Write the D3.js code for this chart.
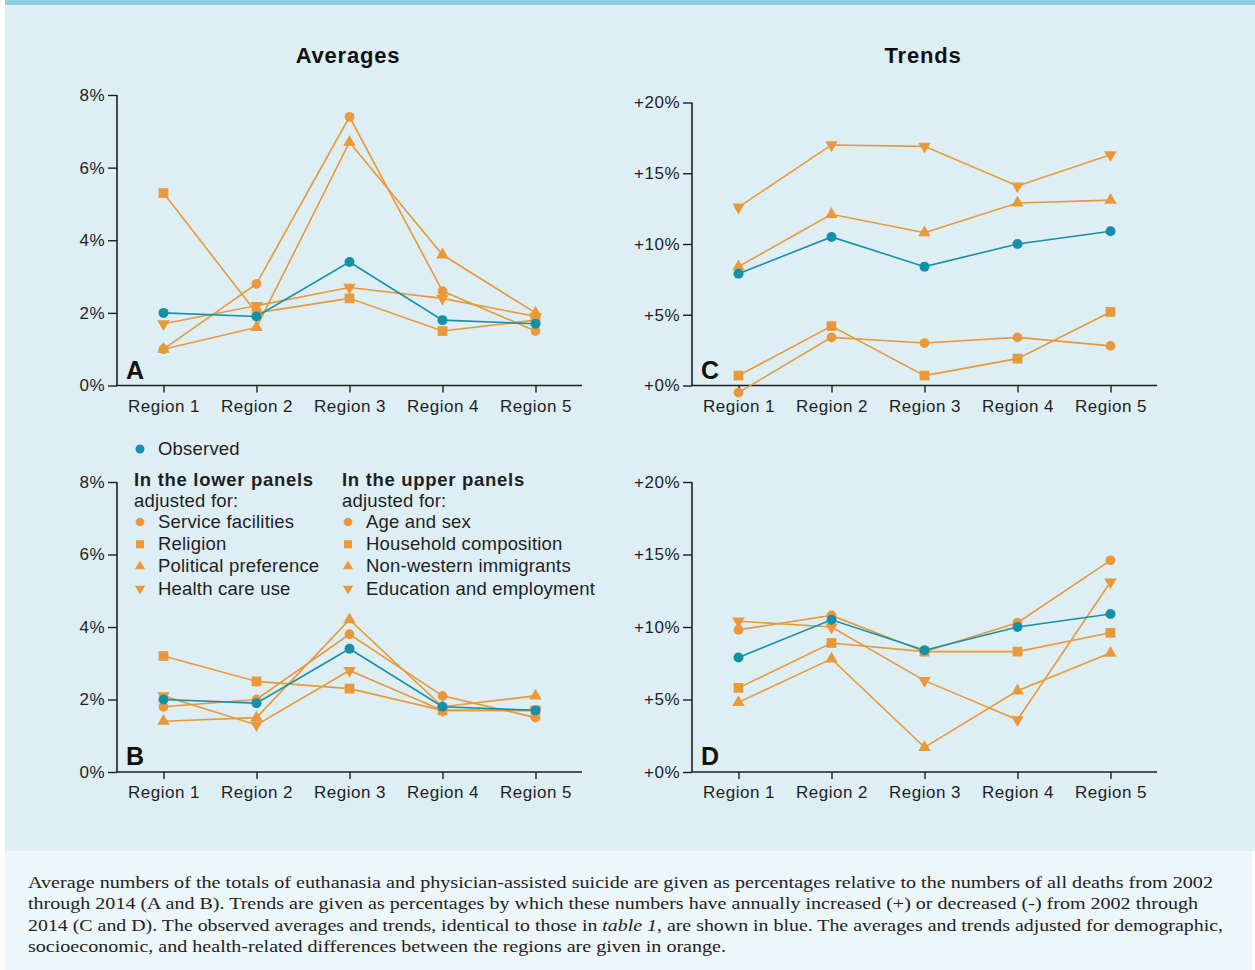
<!DOCTYPE html>
<html>
<head>
<meta charset="utf-8">
<script src="https://cdn.jsdelivr.net/npm/d3@7"></script>
<style>
  html, body { margin: 0; padding: 0; background: #ffffff; }
  svg { display: block; }
</style>
</head>
<body>
<svg id="chart" width="1255" height="970"></svg>
<script>
// ---------- data ----------
const regions = ["Region 1", "Region 2", "Region 3", "Region 4", "Region 5"];
const averageTicks = [0, 2, 4, 6, 8];
const trendTicks = [0, 5, 10, 15, 20];

const observedAverages = [2.0, 1.9, 3.4, 1.8, 1.7];
const observedTrends   = [7.9, 10.5, 8.4, 10.0, 10.9];

// upper panels (A averages, C trends)
const ageSexAvg        = [1.0, 2.8, 7.4, 2.6, 1.5];
const householdAvg     = [5.3, 2.0, 2.4, 1.5, 1.8];
const immigrantsAvg    = [1.0, 1.6, 6.7, 3.6, 2.0];
const educationAvg     = [1.7, 2.2, 2.7, 2.4, 1.9];
const ageSexTrend      = [-0.5, 3.4, 3.0, 3.4, 2.8];
const householdTrend   = [0.7, 4.2, 0.7, 1.9, 5.2];
const immigrantsTrend  = [8.4, 12.1, 10.8, 12.9, 13.1];
const educationTrend   = [12.6, 17.0, 16.9, 14.1, 16.3];

// lower panels (B averages, D trends)
const serviceAvg       = [1.8, 2.0, 3.8, 2.1, 1.5];
const religionAvg      = [3.2, 2.5, 2.3, 1.7, 1.7];
const politicalAvg     = [1.4, 1.5, 4.2, 1.8, 2.1];
const healthAvg        = [2.1, 1.3, 2.8, 1.7, 1.7];
const serviceTrend     = [9.8, 10.8, 8.3, 10.3, 14.6];
const religionTrend    = [5.8, 8.9, 8.3, 8.3, 9.6];
const politicalTrend   = [4.8, 7.8, 1.7, 5.6, 8.2];
const healthTrend      = [10.4, 10.0, 6.3, 3.6, 13.1];

const lowerLabels = ["Service facilities", "Religion", "Political preference", "Health care use"];
const upperLabels = ["Age and sex", "Household composition", "Non-western immigrants", "Education and employment"];
const markerKinds = ["circle", "square", "up", "down"];

const captionLines = [
  [{t: "Average numbers of the totals of euthanasia and physician-assisted suicide are given as percentages relative to the numbers of all deaths from 2002"}],
  [{t: "through 2014 (A and B). Trends are given as percentages by which these numbers have annually increased (+) or decreased (-) from 2002 through"}],
  [{t: "2014 (C and D). The observed averages and trends, identical to those in "}, {t: "table 1", i: true}, {t: ", are shown in blue. The averages and trends adjusted for demographic,"}],
  [{t: "socioeconomic, and health-related differences between the regions are given in orange."}]
];
const captionWidths = [1185, 1170, 1195, 698];

// ---------- style ----------
const BLUE = "#1590aa";
const ORANGE = "#e9993a";
const BG = "#deeef5";
const CAP_BG = "#edf6f9";
const BAR = "#8dd0e2";
const INK = "#1f1f1f";
const SANS = "'Liberation Sans', Arial, sans-serif";
const SERIF = "'Liberation Serif', 'DejaVu Serif', serif";

const svg = d3.select("#chart").style("font-family", SANS);

// backgrounds
svg.append("rect").attr("x", 5).attr("y", 0).attr("width", 1250).attr("height", 851).attr("fill", BG);
svg.append("rect").attr("x", 5).attr("y", 851).attr("width", 1247).attr("height", 119).attr("fill", CAP_BG);
svg.append("rect").attr("x", 5).attr("y", 0).attr("width", 1250).attr("height", 5).attr("fill", BAR);

// titles
svg.append("text").attr("x", 348).attr("y", 63).attr("text-anchor", "middle")
  .attr("font-size", 22).attr("font-weight", "bold").attr("letter-spacing", 0.8).attr("fill", "#111").text("Averages");
svg.append("text").attr("x", 923).attr("y", 63).attr("text-anchor", "middle")
  .attr("font-size", 22).attr("font-weight", "bold").attr("letter-spacing", 0.8).attr("fill", "#111").text("Trends");

function markerPath(kind, size) {
  if (kind === "circle") return d3.symbol(d3.symbolCircle, size)();
  if (kind === "square") return d3.symbol(d3.symbolSquare, size)();
  return d3.symbol(d3.symbolTriangle, size * 0.75)();
}
const markerSize = {circle: 75, square: 95, up: 90, down: 90};

function panel(opts) {
  const g = svg.append("g");
  const x = d3.scalePoint().domain(regions).range([opts.x0, opts.x1]).padding(0.5);
  const y = d3.scaleLinear().domain([opts.ticks[0], opts.ticks[opts.ticks.length - 1]]).range([opts.yBottom, opts.yTop]);

  const yAxis = d3.axisLeft(y).tickValues(opts.ticks).tickFormat(opts.fmt).tickSize(9).tickPadding(3);
  const ya = g.append("g").attr("transform", `translate(${opts.x0},0)`).call(yAxis);
  const xAxis = d3.axisBottom(x).tickSize(7).tickPadding(7).tickSizeOuter(0);
  const xa = g.append("g").attr("transform", `translate(0,${opts.yBottom})`).call(xAxis);
  [ya, xa].forEach(a => {
    a.attr("font-family", SANS);
    a.select(".domain").attr("stroke", INK).attr("stroke-width", 1.6);
    a.selectAll(".tick line").attr("stroke", INK).attr("stroke-width", 1.4);
    a.selectAll(".tick text").attr("fill", INK).attr("font-size", 17).attr("letter-spacing", 0.5);
  });
  ya.select(".domain").attr("d", `M0,${opts.yTop}V${opts.yBottom}`);
  xa.select(".domain").attr("d", `M${opts.x0 - 1},0H${opts.x1}`);

  const line = d3.line().x((d, i) => x(regions[i])).y(d => y(d));

  opts.series.forEach(s => {
    g.append("path").datum(s.values).attr("d", line)
      .attr("fill", "none").attr("stroke", ORANGE).attr("stroke-width", 1.6);
  });
  g.append("path").datum(opts.observed).attr("d", line)
    .attr("fill", "none").attr("stroke", BLUE).attr("stroke-width", 1.6);

  opts.series.forEach(s => {
    g.selectAll(null).data(s.values).enter().append("path")
      .attr("d", markerPath(s.kind, markerSize[s.kind]))
      .attr("transform", (d, i) => `translate(${x(regions[i])},${y(d)})` + (s.kind === "down" ? " rotate(180)" : ""))
      .attr("fill", ORANGE);
  });
  g.selectAll(null).data(opts.observed).enter().append("circle")
    .attr("cx", (d, i) => x(regions[i])).attr("cy", d => y(d)).attr("r", 5)
    .attr("fill", BLUE);

  g.append("text").attr("x", opts.x0 + 9).attr("y", opts.yBottom - 7)
    .attr("font-size", 25).attr("font-weight", "bold").attr("fill", "#111").text(opts.letter);
}

const fmtAvg = d => d + "%";
const fmtTrend = d => "+" + d + "%";

panel({x0: 117, x1: 582, yTop: 95, yBottom: 385.5, ticks: averageTicks, fmt: fmtAvg, letter: "A",
  observed: observedAverages,
  series: [
    {kind: "circle", values: ageSexAvg},
    {kind: "square", values: householdAvg},
    {kind: "up", values: immigrantsAvg},
    {kind: "down", values: educationAvg}
  ]});
panel({x0: 117, x1: 582, yTop: 482, yBottom: 772, ticks: averageTicks, fmt: fmtAvg, letter: "B",
  observed: observedAverages,
  series: [
    {kind: "circle", values: serviceAvg},
    {kind: "square", values: religionAvg},
    {kind: "up", values: politicalAvg},
    {kind: "down", values: healthAvg}
  ]});
panel({x0: 692, x1: 1157, yTop: 102.5, yBottom: 385.5, ticks: trendTicks, fmt: fmtTrend, letter: "C",
  observed: observedTrends,
  series: [
    {kind: "circle", values: ageSexTrend},
    {kind: "square", values: householdTrend},
    {kind: "up", values: immigrantsTrend},
    {kind: "down", values: educationTrend}
  ]});
panel({x0: 692, x1: 1157, yTop: 482, yBottom: 772, ticks: trendTicks, fmt: fmtTrend, letter: "D",
  observed: observedTrends,
  series: [
    {kind: "circle", values: serviceTrend},
    {kind: "square", values: religionTrend},
    {kind: "up", values: politicalTrend},
    {kind: "down", values: healthTrend}
  ]});

// ---------- legend ----------
const lg = svg.append("g");
const legFont = 18.5;
lg.append("circle").attr("cx", 140).attr("cy", 449).attr("r", 4.5).attr("fill", BLUE);
lg.append("text").attr("x", 158).attr("y", 455).attr("font-size", legFont).attr("letter-spacing", 0.2)
  .attr("fill", INK).text("Observed");

function legendColumn(xm, xt, title, labels) {
  lg.append("text").attr("x", xt - 24).attr("y", 486).attr("font-size", legFont).attr("font-weight", "bold")
    .attr("letter-spacing", 0.7).attr("fill", INK).text(title);
  lg.append("text").attr("x", xt - 24).attr("y", 507).attr("font-size", legFont).attr("letter-spacing", 0.2)
    .attr("fill", INK).text("adjusted for:");
  labels.forEach((lab, i) => {
    const cy = 522 + i * 22.2;
    const k = markerKinds[i];
    lg.append("path").attr("d", markerPath(k, k === "circle" ? 60 : k === "square" ? 65 : 60))
      .attr("transform", `translate(${xm},${cy})` + (k === "down" ? " rotate(180)" : ""))
      .attr("fill", ORANGE);
    lg.append("text").attr("x", xt).attr("y", cy + 6).attr("font-size", legFont).attr("letter-spacing", 0.2)
      .attr("fill", INK).text(lab);
  });
}
legendColumn(140, 158, "In the lower panels", lowerLabels);
legendColumn(348, 366, "In the upper panels", upperLabels);

// ---------- caption ----------
const cap = svg.append("g");
captionLines.forEach((parts, i) => {
  const t = cap.append("text").attr("x", 28).attr("y", 888 + i * 21.3)
    .style("font-family", SERIF).attr("font-size", 17).attr("fill", "#222")
    .attr("textLength", captionWidths[i]).attr("lengthAdjust", "spacingAndGlyphs");
  parts.forEach(p => {
    t.append("tspan").attr("font-style", p.i ? "italic" : "normal").text(p.t);
  });
});
</script>
</body>
</html>
